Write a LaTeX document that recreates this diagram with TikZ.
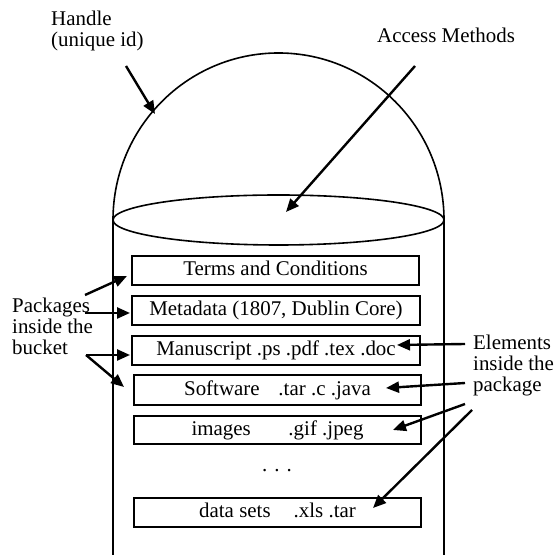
\documentclass[tikz,border=0pt]{standalone}
\usepackage{fontspec}
\setmainfont{Liberation Serif}
\usetikzlibrary{arrows.meta}
\begin{document}
\begin{tikzpicture}[x=1bp,y=1bp,
  every node/.style={font=\fontsize{21}{21.5}\selectfont},
  pkg/.style={draw,line width=1.8bp,minimum width=287bp,minimum height=29bp,inner sep=0pt,
    text height=15bp,text depth=4bp},
  lbl/.style={anchor=base west,align=left,inner sep=0pt},
  arr/.style={line width=2.4bp,-{Triangle[length=13bp,width=11bp]}},
  outline/.style={line width=1.6bp}]
\useasboundingbox (0,0) rectangle (556,555);
% bucket
\coordinate (dl) at (113,335);
\coordinate (dr) at (444,335);
\draw[outline] (dl) arc[start angle=180,end angle=0,x radius=165.5bp,y radius=167bp];
\draw[outline] (278.5,335) ellipse[x radius=165.5bp,y radius=25bp];
\coordinate (bl) at (113,0);
\coordinate (br) at (444,0);
\draw[line width=1.8bp] (dl) -- (bl);
\draw[line width=1.8bp] (dr) -- (br);
% packages
\node[pkg] (terms) at (275.5,284.5) {Terms and Conditions};
\node[pkg,minimum width=288bp] (meta) at (276,244.5) {Metadata (1807, Dublin Core)};
\node[pkg,minimum width=288bp] (manu) at (276,204.5) {Manuscript .ps .pdf .tex .doc};
\node[pkg,minimum height=30bp] (soft) at (277.5,165) {Software\hspace{0.9em}.tar .c .java};
\node[pkg,minimum height=28bp] (img) at (277.5,125) {images\hspace{1.8em}.gif .jpeg};
\node[anchor=base,inner sep=0pt] (dots) at (277,83) {. . .};
\node[pkg] (data) at (277.5,42.5) {data sets\hspace{1.1em}.xls .tar};
% labels (base anchor = baseline of the last line)
\node[lbl] (handle) at (51,508) {Handle\\(unique id)};
\node[lbl] (access) at (377,512) {Access Methods};
\node[lbl] (packages) at (12,200) {Packages\\inside the\\bucket};
\node[lbl] (elements) at (473,163) {Elements\\inside the\\package};
% arrow coordinates
\coordinate (h0) at (126,489); \coordinate (h1) at (155,441);
\coordinate (a0) at (415,489); \coordinate (a1) at (286,343);
\coordinate (p1s) at (85,260); \coordinate (p1e) at (127,279);
\coordinate (p2s) at (85,242); \coordinate (p2e) at (130,242);
\coordinate (p3s) at (86,200); \coordinate (p3e) at (130,200);
\coordinate (p4e) at (124,168);
\coordinate (e1s) at (465,211); \coordinate (e1e) at (397,210);
\coordinate (e2s) at (465,172); \coordinate (e2e) at (386,167);
\coordinate (e3s) at (465,151); \coordinate (e3e) at (393,125);
\coordinate (e4s) at (472,145); \coordinate (e4e) at (373,47);
\draw[arr] (h0) -- (h1);
\draw[arr] (a0) -- (a1);
\draw[arr] (p1s) -- (p1e);
\draw[arr] (p2s) -- (p2e);
\draw[arr] (p3s) -- (p3e);
\draw[arr] (p3s) -- (p4e);
\draw[arr] (e1s) -- (e1e);
\draw[arr] (e2s) -- (e2e);
\draw[arr] (e3s) -- (e3e);
\draw[arr] (e4s) -- (e4e);
\end{tikzpicture}
\end{document}
